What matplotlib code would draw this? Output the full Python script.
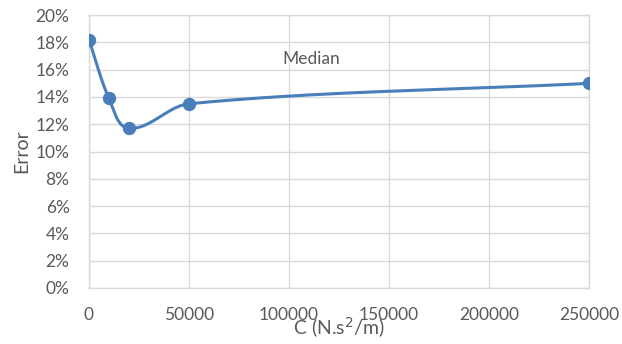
import numpy as np
import matplotlib
matplotlib.use("Agg")
import matplotlib.pyplot as plt
from matplotlib.ticker import FuncFormatter

# data
c_values = [0, 10000, 20000, 50000, 250000]
error_pct = [18.2, 13.9, 11.7, 13.5, 15.0]
series_label = "Median"

plt.rcParams['font.family'] = ['Lato', 'DejaVu Sans']

blue = '#4a7ebb'
grey_text = '#595959'
grid_col = '#d9d9d9'


def smooth(xs, ys, n=60, k=0.33):
    # smoothed line: cubic bezier per segment, tangent along (next - prev),
    # handle length scaled to the segment's own length
    pts = np.column_stack([xs, ys]).astype(float)
    m = len(pts)
    tang = []
    for i in range(m):
        a = pts[max(i - 1, 0)]
        b = pts[min(i + 1, m - 1)]
        d = b - a
        tang.append(d / np.linalg.norm(d))
    t = np.linspace(0, 1, n)[:, None]
    ox, oy = [], []
    for i in range(m - 1):
        p0, p3 = pts[i], pts[i + 1]
        L = np.linalg.norm(p3 - p0)
        p1 = p0 + tang[i] * L * k
        p2 = p3 - tang[i + 1] * L * k
        b = (1 - t) ** 3 * p0 + 3 * (1 - t) ** 2 * t * p1 + 3 * (1 - t) * t ** 2 * p2 + t ** 3 * p3
        ox.extend(b[:, 0])
        oy.extend(b[:, 1])
    return np.array(ox), np.array(oy)


fig = plt.figure(figsize=(6.22, 3.44), dpi=100)
ax = fig.add_axes([0.143, 0.163, 0.804, 0.793])

# smoothing done in pixel-like space so the curve shape matches
sx = np.array(c_values) / 250000.0 * 500
sy = np.array(error_pct) * 13.65
cx, cy = smooth(sx, sy)
ax.plot(cx / 500 * 250000, cy / 13.65, color=blue, lw=2.2, zorder=3)
ax.plot(c_values, error_pct, 'o', color=blue, ms=8.6, zorder=4)

ax.set_xlim(0, 250000)
ax.set_ylim(0, 20)
ax.set_xticks(np.arange(0, 250001, 50000))
ax.set_yticks(np.arange(0, 21, 2))
ax.yaxis.set_major_formatter(FuncFormatter(lambda v, p: f"{v:.0f}%"))
ax.grid(True, color=grid_col, lw=1)
ax.set_axisbelow(True)
for s in ax.spines.values():
    s.set_color(grid_col)
    s.set_linewidth(1)
ax.tick_params(length=0, labelsize=12.5, colors=grey_text)
ax.tick_params(axis='y', pad=14)
ax.tick_params(axis='x', pad=14)
for lbl in ax.get_xticklabels() + ax.get_yticklabels():
    lbl.set_color(grey_text)

ax.set_xlabel("C (N.s$^2$/m)", fontsize=14, color=grey_text, labelpad=-6)
ax.set_ylabel("Error", fontsize=14, color=grey_text, labelpad=4)
ax.text(111000, 16.8, series_label, fontsize=12.5, color=grey_text, ha='center', va='center')

fig.savefig("out.png", dpi=100)
